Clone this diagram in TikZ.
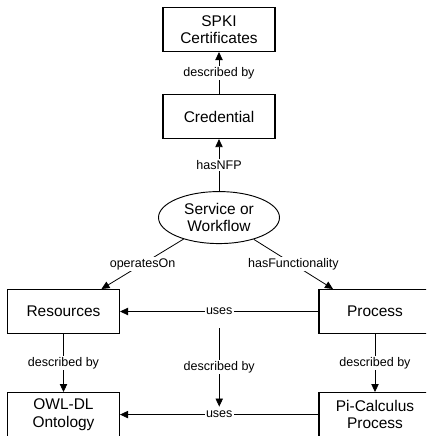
\documentclass[tikz,border=0pt]{standalone}
\usepackage{fontspec}
\setmainfont{Liberation Sans}
\usetikzlibrary{arrows.meta, positioning, shapes.geometric}

\begin{document}
\begin{tikzpicture}[
		x=0.75pt, y=-0.75pt,
		node distance=31.5pt,
		entity/.style={draw, line width=0.8pt, minimum width=84pt, minimum height=33pt,
			inner sep=0pt, align=center, font=\fontsize{11.6}{13.1}\selectfont},
		concept/.style={ellipse, draw, line width=0.7pt, minimum width=90.75pt,
			minimum height=39pt, inner sep=0pt, align=center, font=\fontsize{11.6}{13.1}\selectfont},
		link/.style={-{Triangle[length=6pt, width=5.5pt]}, line width=0.6pt},
		rel/.style={fill=white, inner sep=1pt, font=\fontsize{9.4}{11}\selectfont}
	]
		\useasboundingbox (0,0) rectangle (426,436);
		\clip (0,0) rectangle (426,436);
		\node[entity] (spki) at (219,29.5) {SPKI\\Certificates};
		\node[entity, below=31.5pt of spki] (cred) {Credential};
		\node[concept, below=39pt of cred] (svc) {Service or\\Workflow};
		\node[entity] (res) at (63.5,311.5) {Resources};
		\node[entity] (proc) at (375,311.5) {Process};
		\node[entity, below=43.5pt of res] (owl) {OWL-DL\\Ontology};
		\node[entity, below=43.5pt of proc] (pi) {Pi-Calculus\\Process};
		\draw[link] (cred) -- node[rel] {described by} (spki);
		\draw[link] (svc) -- node[rel] {hasNFP} (cred);
		\draw[link] (svc) -- node[rel] {operatesOn} ([xshift=28.5pt]res.north);
		\draw[link] (svc) -- node[rel] {hasFunctionality} ([xshift=-31.5pt]proc.north);
		\draw[link] (proc) -- node[rel] (u1) {uses} (res);
		\draw[link] (pi) -- node[rel] (u2) {uses} (owl);
		\draw[link] (res) -- node[rel] {described by} (owl);
		\draw[link] (proc) -- node[rel] {described by} (pi);
		\draw[link] ([yshift=-12.4pt]u1.center) -- node[rel] {described by} ([yshift=6pt]u2.center);
	\end{tikzpicture}
\end{document}
